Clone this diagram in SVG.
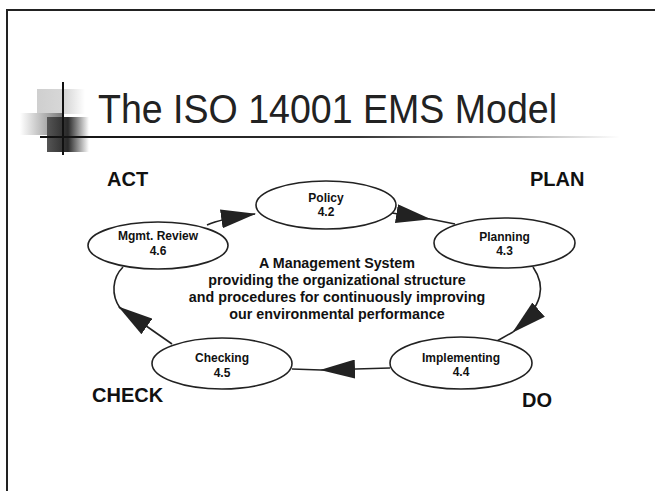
<svg xmlns="http://www.w3.org/2000/svg" width="655" height="491" viewBox="0 0 655 491">
<style>
.node ellipse{fill:#fff;stroke:#222;stroke-width:1.6}
.node text{font-family:"Liberation Sans",Arial,sans-serif;font-size:12px;font-weight:bold;fill:#111;text-anchor:middle}
.phase{font-family:"Liberation Sans",Arial,sans-serif;font-size:20px;font-weight:bold;fill:#111}
.center{font-family:"Liberation Sans",Arial,sans-serif;font-size:14.3px;font-weight:bold;fill:#111;text-anchor:middle}
.conn path{fill:none;stroke:#222;stroke-width:1.6}
.title{font-family:"Liberation Sans",Arial,sans-serif;font-size:40px;fill:#222}
</style>
<defs>
<marker id="ah" markerUnits="userSpaceOnUse" viewBox="0 0 35 19" markerWidth="35" markerHeight="19" refX="34" refY="9.5" orient="auto">
<path d="M0,0 L35,9.5 L0,19 z" fill="#222"/>
</marker>
<linearGradient id="uline" x1="0" x2="1" y1="0" y2="0">
<stop offset="0" stop-color="#111"/>
<stop offset="0.55" stop-color="#333"/>
<stop offset="1" stop-color="#fff"/>
</linearGradient>
<linearGradient id="lightsq" x1="0" x2="1" y1="0" y2="0">
<stop offset="0" stop-color="#cfcfcf"/>
<stop offset="0.6" stop-color="#d8d8d8"/>
<stop offset="1" stop-color="#fff"/>
</linearGradient>
<linearGradient id="midsq" x1="0" x2="1" y1="0" y2="0">
<stop offset="0" stop-color="#fff"/>
<stop offset="1" stop-color="#777"/>
</linearGradient>
<linearGradient id="darksq" x1="0" x2="1" y1="0" y2="0">
<stop offset="0" stop-color="#555"/>
<stop offset="0.5" stop-color="#2a2a2a"/>
<stop offset="1" stop-color="#fff"/>
</linearGradient>
</defs>
<rect width="655" height="491" fill="#fff"/>
<path d="M7,491 L7,10 L655,10" fill="none" stroke="#222" stroke-width="2"/>
<g id="title-deco">
<rect x="37" y="89" width="48" height="25" fill="url(#lightsq)"/>
<rect x="20" y="113" width="43" height="22" fill="url(#midsq)"/>
<rect x="47" y="117" width="42" height="35" fill="url(#darksq)"/>
<line x1="63" y1="82" x2="63" y2="155" stroke="#111" stroke-width="2"/>
<rect x="40" y="136" width="580" height="2" fill="url(#uline)"/>
</g>
<text class="title" x="98" y="123" textLength="459" lengthAdjust="spacingAndGlyphs">The ISO 14001 EMS Model</text>
<g class="conn" id="connectors">
<path d="M207,225 C218,220 234,217 255,214" marker-end="url(#ah)"/>
<path d="M392,213 L430,219" marker-end="url(#ah)"/>
<path d="M430,219 L455,224"/>
<path d="M533,267 C546,286 544,305 513,332" marker-end="url(#ah)"/>
<path d="M513,332 L497,341"/>
<path d="M390,368 L321,370" marker-end="url(#ah)"/>
<path d="M321,370 L292,369"/>
<path d="M172,344 L119,307" marker-end="url(#ah)"/>
<path d="M120,308 C111,295 112,278 123,267"/>
</g>
<g class="node" id="policy"><ellipse cx="326" cy="205" rx="70" ry="24"/><text x="326" y="202">Policy</text><text x="326" y="216">4.2</text></g>
<g class="node" id="planning"><ellipse cx="504.5" cy="243" rx="70.5" ry="25"/><text x="504.5" y="241">Planning</text><text x="504.5" y="255">4.3</text></g>
<g class="node" id="implementing"><ellipse cx="461" cy="363" rx="71" ry="26"/><text x="461" y="362">Implementing</text><text x="461" y="376">4.4</text></g>
<g class="node" id="checking"><ellipse cx="222" cy="363.5" rx="70" ry="25.5"/><text x="222" y="362">Checking</text><text x="222" y="377">4.5</text></g>
<g class="node" id="mgmt-review"><ellipse cx="158" cy="245.5" rx="70" ry="23.5"/><text x="158" y="240">Mgmt. Review</text><text x="158" y="255">4.6</text></g>
<text class="phase" x="107" y="186">ACT</text>
<text class="phase" x="530" y="186">PLAN</text>
<text class="phase" x="92" y="402">CHECK</text>
<text class="phase" x="522" y="407">DO</text>
<g id="center-text">
<text class="center" x="337" y="268">A Management System</text>
<text class="center" x="337" y="285">providing the organizational structure</text>
<text class="center" x="337" y="302">and procedures for continuously improving</text>
<text class="center" x="337" y="319">our environmental performance</text>
</g>
</svg>
